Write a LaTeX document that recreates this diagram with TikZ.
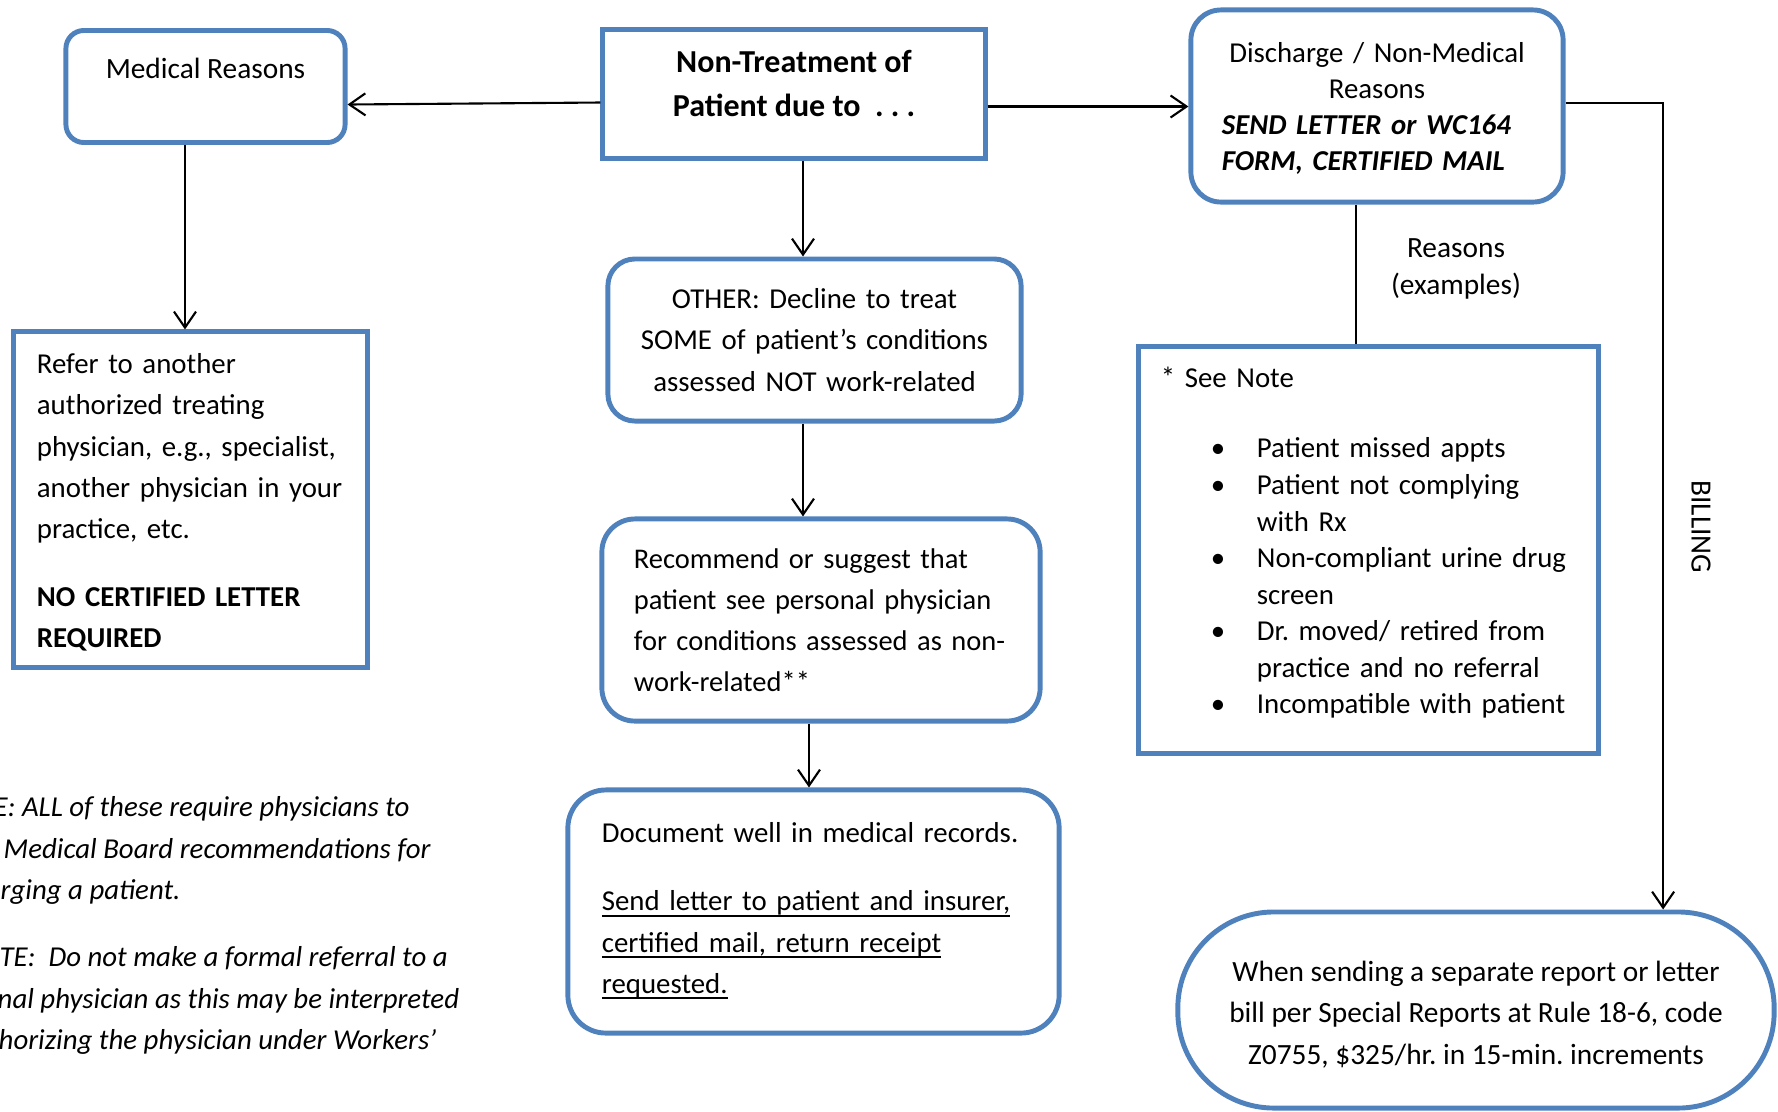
\documentclass[tikz,border=0pt]{standalone}
\usepackage{fontspec}
\setmainfont{Carlito}
\usepackage{xcolor}
\usetikzlibrary{arrows.meta}

\definecolor{boxblue}{HTML}{4F81BD}
\newcommand{\notebullet}{\hspace*{0.50cm}\makebox[0.46cm][l]{\textbullet}}
\newcommand{\noteindent}{\hspace*{0.96cm}}
\newcommand{\docline}[1]{$\underline{\hbox{\raisebox{0pt}[\height][0pt]{#1}}}$}
\newcommand{\padbottom}[1]{\par\vspace*{#1}\nointerlineskip\hbox{}}
\frenchspacing

\begin{document}
\begin{tikzpicture}[x=0.01cm, y=-0.01cm,
    font=\fontsize{8.2}{11.7}\selectfont,
    box/.style={draw=boxblue, line width=1.4pt, inner ysep=0pt},
    rbox/.style={box, rounded corners=#1},
    link/.style={line width=0.6pt, -{Straight Barb[length=0.16cm, width=0.22cm]}}]

    % Page frame
    \useasboundingbox (0,0) rectangle (1778,1111);

    % Top row
    \node[rbox=0.18cm, minimum width=2.79cm, inner xsep=0pt, text height=0.48cm, text depth=0.64cm, anchor=north, font=\fontsize{8.35}{11.7}\selectfont] (med) at (205.5,28) {Medical Reasons};
    \node[box, minimum width=3.82cm, inner xsep=0pt, text height=0.87cm, text depth=0.42cm, anchor=north, font=\fontsize{9.1}{12.5}\selectfont\bfseries] (nontreat) at (794,27) {\begin{tabular}[b]{@{}c@{}}Non-Treatment of\\Patient due to \ . . .\end{tabular}};
    \node[rbox=0.3cm, minimum width=3.72cm, minimum height=1.92cm, inner xsep=0.31cm, text width=3.10cm, align=left, font=\fontsize{8.2}{10.2}\selectfont] (discharge) at (1377,106) {{\centering Discharge / Non-Medical\\Reasons\par}\bfseries\itshape SEND LETTER or WC164\\FORM, CERTIFIED MAIL\padbottom{-0.045cm}};

    % Left column
    \node[box, minimum width=3.53cm, minimum height=3.35cm, inner xsep=0.23cm, text width=3.07cm, align=left] (refer) at (190.5,499.5) {Refer to another\\authorized treating\\physician, e.g., specialist,\\another physician in your\\practice, etc.\\[7.7pt]{\bfseries NO CERTIFIED LETTER\\REQUIRED}\padbottom{-0.06cm}};

    % Middle column
    \node[rbox=0.27cm, minimum width=4.13cm, minimum height=1.62cm, inner xsep=0.115cm, text width=3.9cm, align=center] (other) at (814.5,340) {OTHER: Decline to treat\\SOME of patient’s conditions\\assessed NOT work-related};
    \node[rbox=0.33cm, minimum width=4.38cm, minimum height=2.02cm, inner xsep=0.32cm, text width=3.74cm, align=left, font=\fontsize{8.1}{11.7}\selectfont] (recommend) at (821,620) {Recommend or suggest that\\patient see personal physician\\for conditions assessed as non-\\work-related**};
    \node[rbox=0.38cm, minimum width=4.91cm, minimum height=2.43cm, inner xsep=0.34cm, text width=4.23cm, align=left] (document) at (813.5,911.5) {Document well in medical records.\\[7.7pt]\docline{Send letter to patient and insurer,}\\\docline{certified mail, return receipt}\\\docline{requested.}};

    % Right column
    \node[box, minimum width=4.59cm, minimum height=4.06cm, inner xsep=0.22cm, text width=4.15cm, align=left, font=\fontsize{8.2}{10.4}\selectfont] (seenote) at (1368.5,550) {* See Note\\[9.5pt]
        \notebullet Patient missed appts\\
        \notebullet Patient not complying\\
        \noteindent with Rx\\
        \notebullet Non-compliant urine drug\\
        \noteindent screen\\
        \notebullet Dr. moved/ retired from\\
        \noteindent practice and no referral\\
        \notebullet Incompatible with patient\padbottom{0.14cm}};
    \node[rbox=0.96cm, minimum width=5.96cm, inner sep=0pt, text height=1.52cm, text depth=0.44cm, font=\fontsize{8.35}{11.8}\selectfont] (billing) at (1476,1010) {\begin{tabular}[b]{@{}c@{}}When sending a separate report or letter\\bill per Special Reports at Rule 18-6, code\\Z0755, \$325/hr. in 15-min. increments\end{tabular}};

    % Labels
    \node[align=center, font=\fontsize{8.35}{10.5}\selectfont] (reasons) at (1456,268.5) {Reasons\\(examples)};
    \node[rotate=-90, font=\fontsize{8.35}{10.5}\selectfont] (billlbl) at (1701,527) {BILLING};

    % Notes, cut at the left edge
    \node[align=left, inner sep=0pt, anchor=north west, font=\fontsize{8.2}{11.8}\selectfont\itshape] (notes) at (0,796) {\hspace*{-0.07cm}E: ALL of these require physicians to\\
        \hspace*{0.03cm}Medical Board recommendations for\\
        rging a patient.\\[7.3pt]
        \hspace*{-0.01cm}TE:\ \ Do not make a formal referral to a\\
        \hspace*{-0.03cm}nal physician as this may be interpreted\\
        \hspace*{-0.02cm}horizing the physician under Workers’};

    % Connectors
    \draw[link] ([yshift=-0.085cm]nontreat.west) -- ([yshift=-0.18cm]med.east);
    \draw[link] ([yshift=-0.125cm]nontreat.east) -- ([yshift=-0.125cm]nontreat.east -| discharge.west);
    \draw[link] ([xshift=-0.205cm]med.south) -- ([xshift=-0.205cm]med.south |- refer.north);
    \draw[link] ([xshift=0.09cm]nontreat.south) -- ([xshift=0.09cm]nontreat.south |- other.north);
    \draw[link] ([xshift=-0.115cm]other.south) -- ([xshift=-0.115cm]other.south |- recommend.north);
    \draw[link] ([xshift=-0.12cm]recommend.south) -- ([xshift=-0.12cm]recommend.south |- document.north);
    \draw[line width=0.6pt] ([xshift=-0.21cm]discharge.south) -- ([xshift=-0.21cm]discharge.south |- seenote.north);
    \draw[link] ([yshift=0.03cm]discharge.east) -| ([xshift=1.87cm]billing.north);
\end{tikzpicture}
\end{document}
